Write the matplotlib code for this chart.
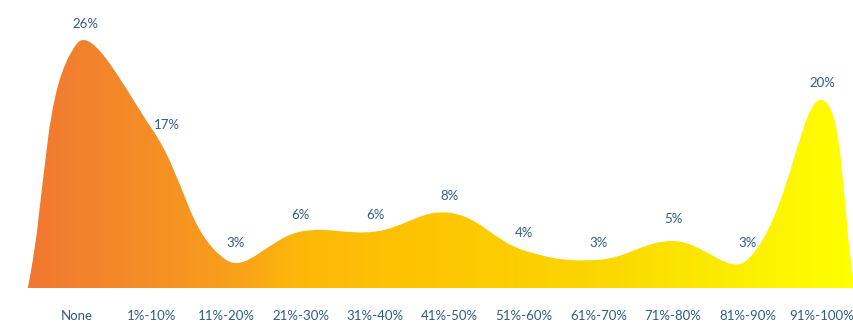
import numpy as np
import matplotlib
matplotlib.use("Agg")
import matplotlib.pyplot as plt
from matplotlib.colors import LinearSegmentedColormap
from matplotlib.path import Path
from matplotlib.patches import PathPatch

# share of respondents per bucket
buckets = ["None", "1%-10%", "11%-20%", "21%-30%", "31%-40%", "41%-50%",
           "51%-60%", "61%-70%", "71%-80%", "81%-90%", "91%-100%"]
shares = [26, 17, 3, 6, 6, 8, 4, 3, 5, 3, 20]
share_labels = ["26%", "17%", "3%", "6%", "6%", "8%", "4%", "3%", "5%", "3%", "20%"]

plt.rcParams["font.family"] = ["Lato", "DejaVu Sans"]
text_color = "#2f5d87"

W, H, dpi = 854, 324, 100
fig = plt.figure(figsize=(W / dpi, H / dpi), dpi=dpi)
base_px = 36  # pixels between bottom edge and baseline
ax = fig.add_axes([0, base_px / H, 1, 1 - base_px / H])

step = 74.5  # px per bucket
x0 = 77.0
ax.set_xlim(-x0 / step, (W - x0) / step)
ymax = (H - base_px) / 9.4
ax.set_ylim(0, ymax)

# the area starts and ends on the baseline just outside the outer buckets
xk = np.concatenate([[-0.66], np.arange(len(shares)), [len(shares) - 1 + 0.44]])
yk = np.concatenate([[0.0], np.array(shares, float), [0.0]])

# smooth line: bezier control points in screen space, tension 0.4
P = ax.transData.transform(np.column_stack([xk, yk]))
n = len(P)
tension = 0.4
c_prev = P.copy()
c_next = P.copy()
for i in range(n):
    prv = P[i - 1] if i > 0 else P[i]
    nxt = P[i + 1] if i < n - 1 else P[i]
    d01 = np.hypot(*(P[i] - prv))
    d12 = np.hypot(*(nxt - P[i]))
    tot = d01 + d12
    fa = tension * (d01 / tot if tot else 0)
    fb = tension * (d12 / tot if tot else 0)
    c_prev[i] = P[i] - fa * (nxt - prv)
    c_next[i] = P[i] + fb * (nxt - prv)

verts = [P[0]]
codes = [Path.MOVETO]
for i in range(n - 1):
    verts += [c_next[i], c_prev[i + 1], P[i + 1]]
    codes += [Path.CURVE4] * 3
verts.append(P[0])
codes.append(Path.CLOSEPOLY)
verts = ax.transData.inverted().transform(np.array(verts))

area = PathPatch(Path(verts, codes), facecolor="none", edgecolor="none")
ax.add_patch(area)

grad = LinearSegmentedColormap.from_list("warm", [
    (0.00, "#f07234"), (0.15, "#f48a28"), (0.28, "#f9a11a"),
    (0.34, "#fdb60a"), (0.50, "#fdc500"), (0.70, "#fbd600"),
    (0.85, "#fcec00"), (1.00, "#ffff00")])
xl = ax.get_xlim()
img = ax.imshow(np.linspace(0, 1, 256).reshape(1, -1), cmap=grad, aspect="auto",
                extent=[xl[0], xl[1], 0, ymax], zorder=1)
img.set_clip_path(area)

# value labels above each point
nudge = {0: (8, 20), 1: (15, 3), 2: (10, 17), 8: (0, 22)}
for i, (v, lab) in enumerate(zip(shares, share_labels)):
    dx, dy = nudge.get(i, (0, 17))
    ax.annotate(lab, (i, v), xytext=(dx * 0.72, dy * 0.72), textcoords="offset points",
                ha="center", va="center", fontsize=9.5, color=text_color, zorder=3)

ax.set_xticks(range(len(buckets)))
ax.set_xticklabels(buckets, fontsize=9.5, color=text_color)
ax.tick_params(axis="x", length=0, pad=16)
ax.set_yticks([])
for s in ax.spines.values():
    s.set_visible(False)

fig.savefig("out.png", dpi=dpi)
